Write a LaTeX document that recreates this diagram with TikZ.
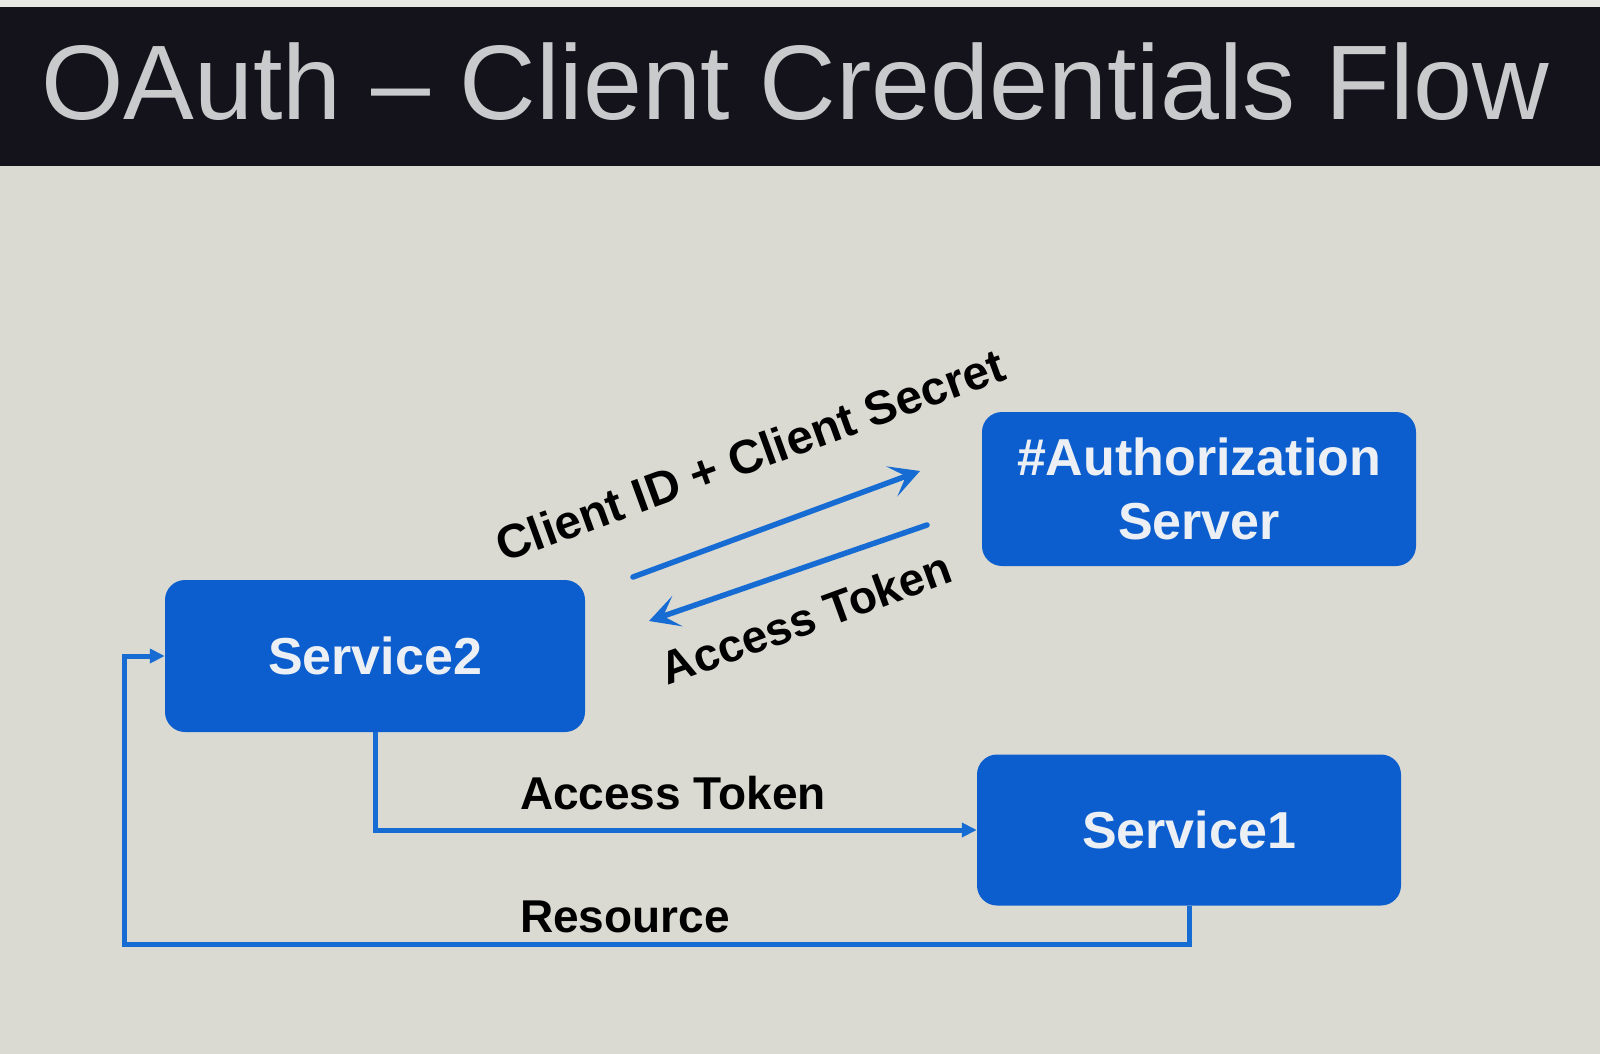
\documentclass[tikz,border=0pt]{standalone}
\usepackage{fontspec}
\setmainfont{Liberation Sans}
\usetikzlibrary{arrows.meta}

\definecolor{slidebg}{RGB}{218,218,210}
\definecolor{topstrip}{RGB}{232,232,228}
\definecolor{banner}{RGB}{20,18,26}
\definecolor{titlegrey}{RGB}{200,202,204}
\definecolor{boxblue}{RGB}{12,94,206}
\definecolor{lineblue}{RGB}{22,108,210}
\definecolor{boxtext}{RGB}{236,240,244}

\tikzset{
  svcbox/.style={draw=none, fill=boxblue, rounded corners=20pt,
    align=center, text=boxtext, inner sep=0pt,
    font=\fontsize{52}{62}\selectfont\bfseries},
  flowlabel/.style={text=black, inner sep=0pt,
    font=\fontsize{46}{55}\selectfont\bfseries},
  conn/.style={draw=lineblue, line width=5pt,
    -{Triangle[length=15pt,width=14pt]}},
  swap/.style={draw=lineblue, line width=5.5pt, line cap=round,
    -{Stealth[length=30pt,width=32pt,inset=15pt]}}
}

\begin{document}
\begin{tikzpicture}[x=1pt,y=-1pt]
  % slide background and title banner
  \fill[topstrip] (0,0) rectangle (1600,1054);
  \fill[slidebg] (0,8) rectangle (1600,1054);
  \fill[banner] (0,7) rectangle (1600,166);
  \useasboundingbox (0,0) rectangle (1600,1054);
  \node[anchor=base west, inner sep=0pt, text=titlegrey,
        font=\fontsize{106}{120}\selectfont] (title) at (41,120)
        {OAuth -- Client Credentials Flow};

  % services
  \node[svcbox, minimum width=420pt, minimum height=152pt] (s2) at (375,656) {Service2};
  \node[svcbox, minimum width=434pt, minimum height=154pt] (auth) at (1199,489)
        {\#Authorization\\[2pt]Server};
  \node[svcbox, minimum width=424pt, minimum height=151pt] (s1) at (1189,830) {Service1};

  % credential exchange with the authorization server
  \coordinate (reqStart) at (633,577);
  \coordinate (reqEnd)   at (920,471);
  \coordinate (tokStart) at (927,525);
  \coordinate (tokEnd)   at (649,621);
  \draw[swap] (reqStart) -- (reqEnd);
  \draw[swap] (tokStart) -- (tokEnd);
  \node[flowlabel, rotate=20, font=\fontsize{47.5}{56}\selectfont\bfseries]
        (lblCred) at (750,455) {Client ID + Client Secret};
  \node[flowlabel, rotate=20] (lblTok) at (806,618) {Access Token};

  % token sent to Service1, resource returned to Service2
  \coordinate (loop) at (124,944);
  \draw[conn] (s2.south) |- (s1.west);
  \draw[conn] (s1.south) |- (loop) |- (s2.west);
  \node[flowlabel, anchor=base] (lblAccess) at (673,809) {Access Token};
  \node[flowlabel, anchor=base] (lblRes) at (625,932) {Resource};
\end{tikzpicture}
\end{document}
